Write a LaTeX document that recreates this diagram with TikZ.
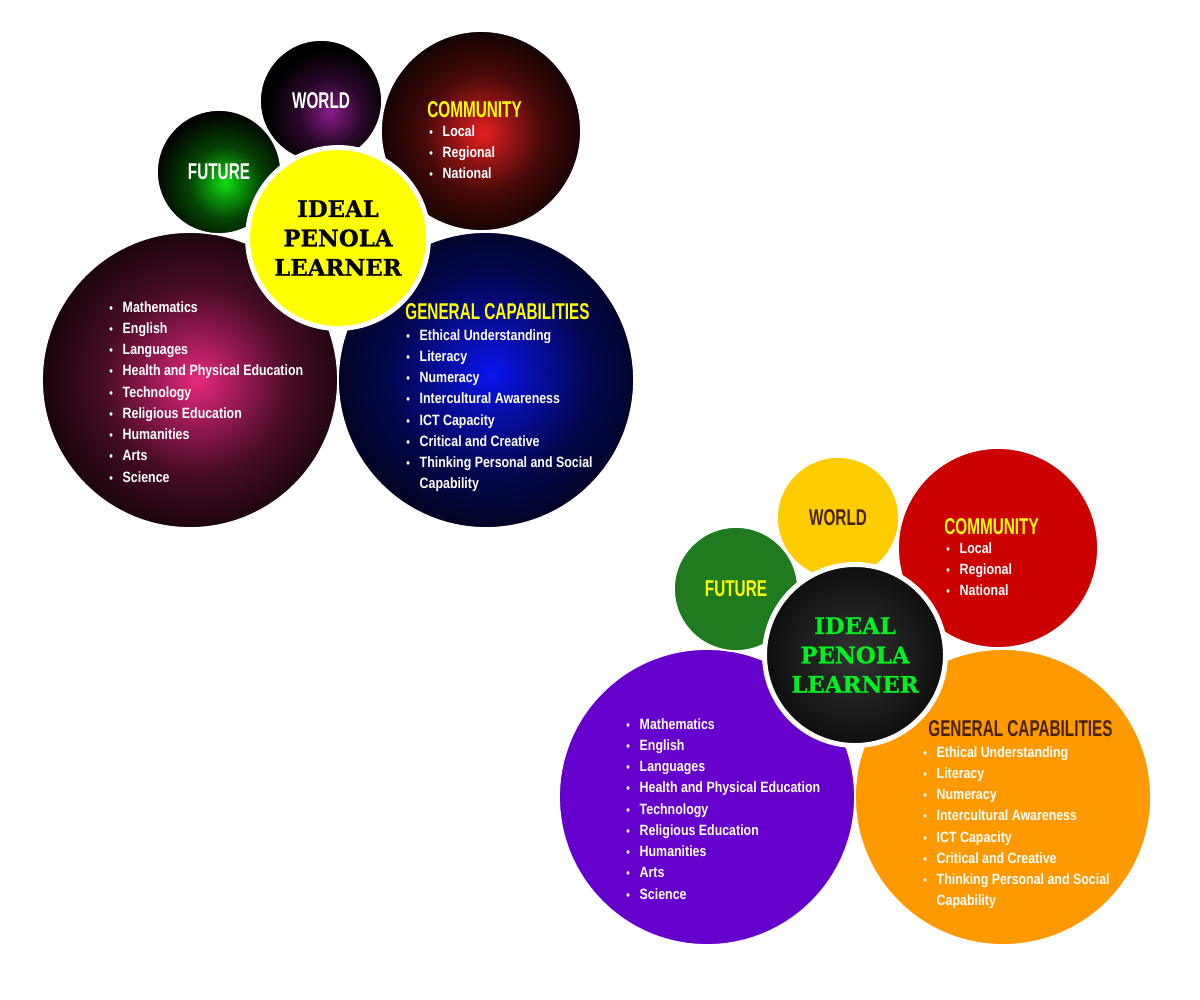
\documentclass[tikz,border=0pt]{standalone}
\usepackage{fontspec}
\newfontfamily\headfont[FakeStretch=0.67]{Liberation Sans}
\newfontfamily\itemfont[FakeStretch=0.83]{Liberation Sans}
\newfontfamily\titlefont[FakeBold=0.8]{DejaVu Serif Bold}
\definecolor{glowPink}{HTML}{E8287C}
\definecolor{glowBlue}{HTML}{0A14F0}
\definecolor{glowRed}{HTML}{E82020}
\definecolor{glowGreen}{HTML}{10E010}
\definecolor{glowPurple}{HTML}{8A1C8A}
\definecolor{hubYellow}{HTML}{FFFF00}
\definecolor{worldGold}{HTML}{FFCC00}
\definecolor{commRed}{HTML}{CC0000}
\definecolor{futureGreen}{HTML}{207A1E}
\definecolor{subjPurple}{HTML}{6600CC}
\definecolor{capOrange}{HTML}{FF9900}
\definecolor{darkBrown}{HTML}{4A2300}
\definecolor{titleGreen}{HTML}{00F020}
\colorlet{glowc}{red}
\pgfdeclareradialshading[glowc]{glowball}{\pgfpoint{0bp}{0bp}}{color(0bp)=(glowc);
    color(4bp)=(glowc!70!black); color(10bp)=(glowc!30!black); color(20bp)=(black); color(50bp)=(black)}
\newcommand{\itm}[1]{\makebox[7.6pt][l]{\fontsize{7}{7}\selectfont\textbullet}#1}
\tikzset{
    bubble/.style={circle, draw=white, line width=1pt, inner sep=0pt},
    hub/.style={circle, draw=white, line width=2.8pt, inner sep=0pt, minimum size=3.62cm},
    glow/.style n args={3}{fill=black, path picture={\colorlet{glowc}{#1}
        \shade[shading=glowball] ([shift={(#2)}]path picture bounding box.center) circle (#3);}},
    heading/.style={font=\headfont\bfseries\fontsize{13}{15}\selectfont, inner sep=0pt},
    itemlist/.style={font=\itemfont\bfseries\fontsize{8.5}{12.1}\selectfont, align=left,
        anchor=north west, inner sep=0pt, text=white},
    title/.style={font=\titlefont\fontsize{13}{16.7}\selectfont, align=center, inner sep=0pt}
}
\begin{document}
\begin{tikzpicture}[x=0.02cm, y=-0.02cm]
\fill[white] (0,0) rectangle (1200,1000);
\useasboundingbox (0,0) rectangle (1200,1000);

% dark version
\node[bubble, minimum size=5.92cm, glow={glowPink}{7,0}{235}] (subj) at (190,380) {};
\node[bubble, minimum size=5.92cm, glow={glowBlue}{5,-7}{260}] (caps) at (486,380) {};
\node[bubble, minimum size=2.48cm, glow={glowGreen}{6,11}{90}] (future) at (219,172) {};
\node[bubble, minimum size=2.44cm, glow={glowPurple}{9,12}{80}] (world) at (321,101) {};
\node[bubble, minimum size=4cm, glow={glowRed}{2,2}{150}] (comm) at (481,131) {};
\node[hub, fill=hubYellow] (hub) at (338,238) {};

\node[heading, text=white] (worldtxt) at (world.center) {WORLD};
\node[heading, text=white] (futuretxt) at (future.center) {FUTURE};
\node[heading, text=hubYellow, anchor=west] (commtxt) at (427,110) {COMMUNITY};
\node[itemlist] (commlist) at (429,125) {\itm{Local}\\ \itm{Regional}\\ \itm{National}};
\node[itemlist] (subjlist) at (109,301) {\itm{Mathematics}\\ \itm{English}\\ \itm{Languages}\\
    \itm{Health and Physical Education}\\ \itm{Technology}\\ \itm{Religious Education}\\
    \itm{Humanities}\\ \itm{Arts}\\ \itm{Science}};
\node[heading, text=hubYellow, anchor=west] (capstxt) at (405,312) {GENERAL CAPABILITIES};
\node[itemlist] (capslist) at (406,329) {\itm{Ethical Understanding}\\ \itm{Literacy}\\ \itm{Numeracy}\\
    \itm{Intercultural Awareness}\\ \itm{ICT Capacity}\\ \itm{Critical and Creative}\\
    \itm{Thinking Personal and Social}\\ \hspace*{7.6pt}Capability};
\node[title, text=black] (hubtxt) at (hub.center) {IDEAL\\PENOLA\\LEARNER};

% flat version
\begin{scope}[shift={(517,417)}]
\node[bubble, minimum size=5.92cm, fill=subjPurple] (subj2) at (190,380) {};
\node[bubble, minimum size=5.92cm, fill=capOrange] (caps2) at (486,380) {};
\node[bubble, minimum size=2.48cm, fill=futureGreen] (future2) at (219,172) {};
\node[bubble, minimum size=2.44cm, fill=worldGold] (world2) at (321,101) {};
\node[bubble, minimum size=4cm, fill=commRed] (comm2) at (481,131) {};
\node[hub, glow={black!80}{0,0}{220}] (hub2) at (338,238) {};

\node[heading, text=darkBrown] (worldtxt2) at (world2.center) {WORLD};
\node[heading, text=hubYellow] (futuretxt2) at (future2.center) {FUTURE};
\node[heading, text=hubYellow, anchor=west] (commtxt2) at (427,110) {COMMUNITY};
\node[itemlist] (commlist2) at (429,125) {\itm{Local}\\ \itm{Regional}\\ \itm{National}};
\node[itemlist] (subjlist2) at (109,301) {\itm{Mathematics}\\ \itm{English}\\ \itm{Languages}\\
    \itm{Health and Physical Education}\\ \itm{Technology}\\ \itm{Religious Education}\\
    \itm{Humanities}\\ \itm{Arts}\\ \itm{Science}};
\node[heading, text=darkBrown, anchor=west] (capstxt2) at (411,312) {GENERAL CAPABILITIES};
\node[itemlist] (capslist2) at (406,329) {\itm{Ethical Understanding}\\ \itm{Literacy}\\ \itm{Numeracy}\\
    \itm{Intercultural Awareness}\\ \itm{ICT Capacity}\\ \itm{Critical and Creative}\\
    \itm{Thinking Personal and Social}\\ \hspace*{7.6pt}Capability};
\node[title, text=titleGreen] (hubtxt2) at (hub2.center) {IDEAL\\PENOLA\\LEARNER};
\end{scope}
\end{tikzpicture}
\end{document}
